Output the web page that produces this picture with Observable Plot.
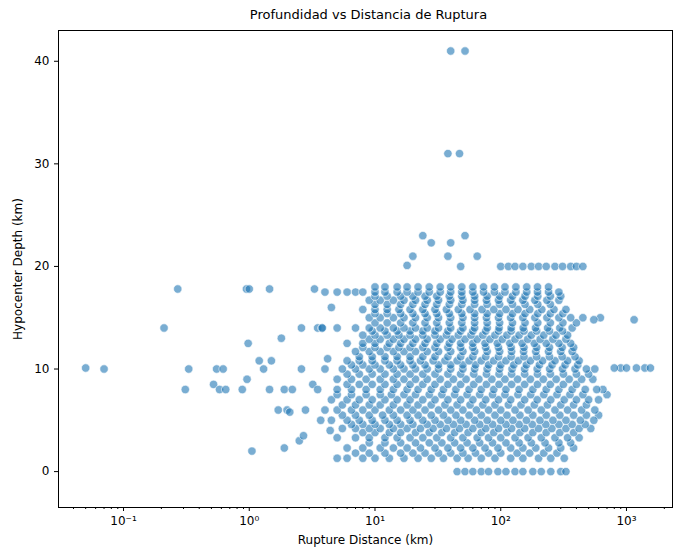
<!DOCTYPE html><html><head><meta charset="utf-8">
<script src="https://cdn.jsdelivr.net/npm/d3@7"></script>
<script src="https://cdn.jsdelivr.net/npm/@observablehq/plot@0.6"></script>
<style>body{margin:0;background:#fff;font-family:"DejaVu Sans",sans-serif}#t{height:24px;line-height:30px;text-align:center;font-size:13px;padding-left:50px}</style>
</head><body><div id="t">Profundidad vs Distancia de Ruptura</div><div id="c"></div>
<script>
// Outlying points [distance km, depth km]
const outliers = [[0.05,10.1],[0.07,10],[0.21,14],[0.27,17.8],[0.31,8],[0.33,10],[0.52,8.5],[0.55,10],[0.58,8],[0.62,10],[0.65,8],[0.88,8],[0.95,17.8],[1,17.8],[0.98,12.5],[0.96,9],[1.05,2],[1.2,10.8],[1.3,10],[1.45,17.8],[1.45,8],[1.5,10.8],[1.7,6],[1.8,13],[1.9,2.3],[1.9,8],[2,6],[2.1,5.8],[2.2,8],[2.5,3],[2.6,10],[2.6,14],[2.7,3.5],[2.8,6],[3.3,17.8],[3.5,14],[3.2,8.5],[3.8,14],[4,17.5],[4.2,11],[4.5,16],[3.7,5],[4.4,4],[40,41],[52,41],[38,31],[47,31],[24,23],[52,23],[28,22.3],[40,22.3],[20,21],[65,21],[18,20.1],[48,20],[1150,14.8],[1400,10.1],[1550,10.1],[900,10.1],[700,7.5],[800,10.1],[1000,10.1],[1200,10.1],[650,8],[600,5.5],[620,15],[550,14.8],[38,21]];
// Dense cloud: depth level and distances observed at that level
const cloudDepths = [0,1.3,1.8,2.3,2.8,3.3,3.8,4.2,4.6,5,5.5,6,6.5,7,7.5,8,8.5,9,9.5,10,10.4,10.8,11.2,11.7,12.1,12.5,12.9,13.3,13.7,14,14.5,15,15.4,15.8,16.3,16.7,17.1,17.5,18,20];
const cloudDistances = [
 [45,52,60,70,80,95,110,130,150,180,210,250,300,330],
 [5,6,8,10,13,17,22,28,35,45,55,70,90,120,150,200,250,320],
 [7,9,12,16,20,25,32,40,50,63,80,100,135,170,220,280],
 [6,8,11,14,18,23,30,38,48,60,75,95,120,150,190,240,300,380],
 [9,12,16,21,27,34,43,54,68,86,110,140,175,225,290,360],
 [5,7,9,12,15,19,24,31,40,50,65,80,100,130,165,210,270,340,420],
 [8,10,13,16,21,27,34,43,55,70,88,112,142,180,230,295,380],
 [5.5,7,9,11,14,18,23,29,37,47,60,76,96,122,155,200,255,330,420,520],
 [6.5,8,10,13,16,20,26,33,42,53,68,86,110,140,178,228,290,370,470],
 [4.5,6,7.5,9.5,12,15,19,24,30,38,48,62,78,100,125,160,205,260,330,430,550],
 [5.5,7,9,11.5,14,18,22,28,35,44,56,70,90,112,142,180,230,295,380,480],
 [4,5,6.5,8,10,13,16,20,25,32,40,50,64,80,100,130,165,210,270,340,440,560],
 [5.5,7,9,11,14,18,22,28,36,45,57,72,90,115,145,185,235,300,380,480],
 [4.5,6,7.5,9.5,12,15,19,24,30,38,48,60,76,96,120,155,195,250,320,400,500,600],
 [5,6.5,8.5,11,13.5,17,21,27,34,43,54,68,86,108,137,173,220,280,355,450],
 [3.5,5,6.5,8.5,11,14,18,22,28,35,44,56,70,88,110,140,180,230,290,370,470,580],
 [6,7.5,9.5,12,15,19,24,30,38,48,61,77,97,122,155,196,248,315,400],
 [5,6.5,8.5,11,14,17,21,26,33,42,53,67,85,108,136,172,218,276,350,440,540],
 [6,7.5,9.5,12,15,19,24,30,38,48,61,77,97,122,155,196,248,315,400,500],
 [4,5.5,7,9,11,14,17,21,26,32,40,50,62,78,98,123,155,195,245,310,390,480,560],
 [6.5,8,10,13,16,20,25,32,40,50,63,80,100,127,160,203,256,325,410],
 [6,7.5,9.5,12,15,19,23,29,36,45,56,70,88,110,138,172,215,270,340,420],
 [7.5,9.5,12,15,19,24,30,38,48,60,76,96,121,153,193,244,308,390],
 [7,9,11,14,17,21,26,32,40,50,62,78,98,122,152,190,240,300,370],
 [8,10,12.5,15.5,19,24,30,38,48,60,76,96,121,153,193,244,308,380],
 [6,8,10,13,16,20,25,31,39,48,60,75,94,118,148,185,230,290,360],
 [9,11,14,17,21,26,33,41,52,65,82,103,130,164,206,260,330],
 [8,10,12.5,15.5,19,24,30,37,46,58,72,90,112,140,175,220,275,340],
 [9.5,12,15,19,24,30,38,48,60,76,96,121,153,193,244,310],
 [3.8,5,7,9,11,14,17,21,26,32,40,50,62,78,97,121,151,189,236,295,370],
 [10,12.5,16,20,25,31,39,49,62,78,98,124,156,197,248,312,400],
 [9,11,14,17,21,26,32,40,50,62,77,96,120,150,187,233,290,360,450],
 [10,12.5,16,20,25,31,39,49,62,78,98,124,156,197,248,312],
 [8,10,12.5,15.5,19,24,30,37,46,57,71,88,110,137,170,212,265,330],
 [10,12.5,16,20,25,31,39,49,62,78,98,124,156,197,248],
 [9,11,14,17,21,26,32,40,50,62,77,96,120,150,187,233,290],
 [10,12.5,16,20,25,31,39,49,62,78,98,124,156,197,248,300],
 [5,6,7,8,10,12,15,18,22,27,33,40,49,60,73,89,108,132,161,196,240,290],
 [10,12,15,18,22,27,33,40,49,60,73,89,108,132,161,196,240],
 [100,115,130,150,175,200,230,270,310,360,400,450]
];
const points = outliers.map(([x,y])=>({x,y}));
cloudDepths.forEach((d,i)=>cloudDistances[i].forEach(x=>{points.push({x,y:d});}));
const majorTicks = [0.1,1,10,100,1000];
const minorTicks = [0.04,0.05,0.06,0.07,0.08,0.09,0.2,0.3,0.4,0.5,0.6,0.7,0.8,0.9,2,3,4,5,6,7,8,9,20,30,40,50,60,70,80,90,200,300,400,500,600,700,800,900,2000];
const sup = {"-":"⁻","0":"⁰","1":"¹","2":"²","3":"³"};
const fmt = v => "10" + String(Math.round(Math.log10(v))).split("").map(c=>sup[c]).join("");
const chart = Plot.plot({
  width:687, height:526, marginTop:6, marginBottom:43, marginLeft:58, marginRight:15,
  style:{fontFamily:"DejaVu Sans, sans-serif", fontSize:"12px", color:"#000"},
  x:{type:"log", domain:[0.0304,2323]},
  y:{domain:[-3.5,43]},
  marks:[
    Plot.frame({stroke:"#000"}),
    Plot.axisX({ticks:minorTicks, tickSize:2, tickFormat:()=>"", label:null}),
    Plot.axisX({ticks:majorTicks, tickSize:4, tickFormat:fmt, label:"Rupture Distance (km)", labelAnchor:"center", labelArrow:"none", labelOffset:36}),
    Plot.axisY({ticks:[0,10,20,30,40], tickSize:4, label:"Hypocenter Depth (km)", labelAnchor:"center", labelArrow:"none", labelOffset:45}),
    Plot.dot(points,{x:"x",y:"y",r:4.2,fill:"#1f77b4",fillOpacity:0.6,stroke:"#fff",strokeWidth:0.6})
  ]
});
document.getElementById("c").append(chart);
</script></body></html>
